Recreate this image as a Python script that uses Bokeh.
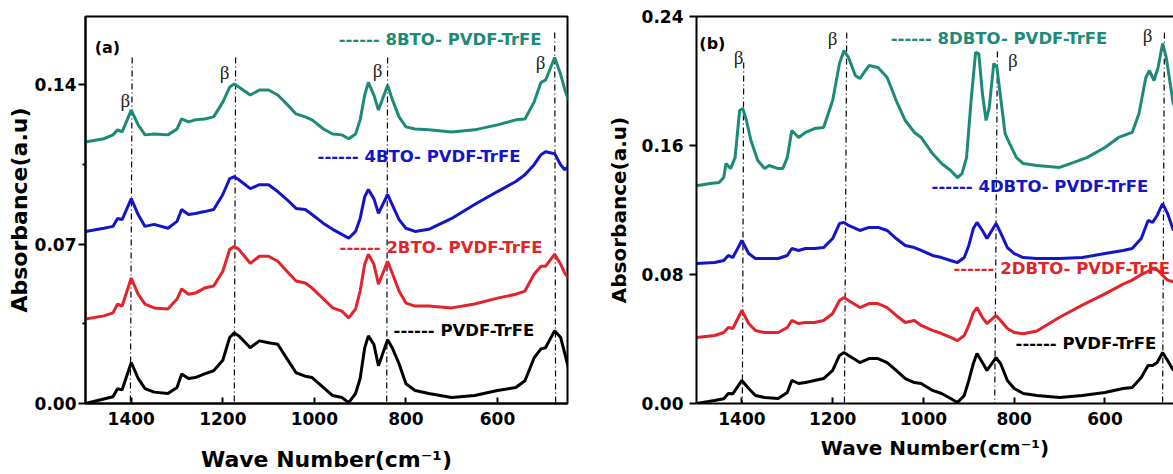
from bokeh.plotting import figure
from bokeh.models import Range1d, FixedTicker, PrintfTickFormatter, Label, LinearAxis
from bokeh.layouts import row
from bokeh.embed import file_html
from bokeh.resources import INLINE

# ---------------- data: panel (a) ----------------
wn_a = [1500, 1460, 1440, 1430, 1420, 1400, 1385, 1370, 1350, 1320, 1300, 1290, 1275, 1260, 1240, 1220,
        1200, 1185, 1175, 1165, 1140, 1120, 1100, 1080, 1060, 1040, 1020, 1005, 980, 960, 940, 925, 910,
        900, 890, 882, 870, 860, 840, 830, 815, 800, 780, 750, 700, 650, 600, 560, 540, 520, 505, 495,
        475, 462, 453, 445]
pvdf_a = [0.000, 0.002, 0.003, 0.0065, 0.006, 0.018, 0.011, 0.0065, 0.005, 0.0044, 0.007, 0.013, 0.011,
          0.0114, 0.013, 0.0144, 0.019, 0.029, 0.031, 0.0297, 0.0245, 0.0275, 0.0267, 0.026, 0.0197,
          0.0135, 0.012, 0.0114, 0.007, 0.0035, 0.0026, 0.0004, 0.0044, 0.011, 0.0245, 0.0297, 0.026,
          0.0166, 0.028, 0.0245, 0.0175, 0.0087, 0.0057, 0.0044, 0.0026, 0.0035, 0.0057, 0.007, 0.010,
          0.020, 0.024, 0.0245, 0.032, 0.029, 0.022, 0.0157]
bto2_a = [0.0371, 0.0385, 0.0398, 0.0437, 0.0428, 0.0551, 0.048, 0.0437, 0.042, 0.0415, 0.0459, 0.0503,
          0.048, 0.0485, 0.0507, 0.0516, 0.0581, 0.0677, 0.069, 0.0677, 0.0616, 0.0647, 0.0647, 0.0625,
          0.0581, 0.0538, 0.0529, 0.0507, 0.0459, 0.042, 0.0406, 0.0376, 0.0415, 0.0494, 0.0612, 0.0656,
          0.0612, 0.0524, 0.0625, 0.0573, 0.0494, 0.0441, 0.0428, 0.0428, 0.042, 0.0437, 0.0463, 0.048,
          0.0494, 0.0568, 0.0603, 0.0603, 0.0656, 0.0612, 0.0573, 0.0551]
bto4_a = [0.0756, 0.077, 0.0778, 0.0813, 0.0808, 0.090, 0.083, 0.0778, 0.0787, 0.077, 0.080, 0.0852,
          0.083, 0.0835, 0.0843, 0.0852, 0.0918, 0.0988, 0.0996, 0.0983, 0.0944, 0.0961, 0.0961, 0.0931,
          0.0896, 0.0857, 0.0852, 0.083, 0.0791, 0.0765, 0.0743, 0.0726, 0.0756, 0.0813, 0.0909, 0.094,
          0.090, 0.0835, 0.0918, 0.0874, 0.0808, 0.077, 0.0756, 0.0765, 0.0813, 0.0874, 0.0931, 0.0975,
          0.1005, 0.1049, 0.1093, 0.1106, 0.1097, 0.1049, 0.1027, 0.104]
bto8_a = [0.1149, 0.1163, 0.118, 0.1202, 0.1193, 0.1289, 0.1224, 0.118, 0.1184, 0.118, 0.1206, 0.125,
          0.1237, 0.1246, 0.125, 0.1259, 0.1324, 0.139, 0.1403, 0.139, 0.1355, 0.1377, 0.1377, 0.1355,
          0.1315, 0.1272, 0.1259, 0.1246, 0.1206, 0.1184, 0.118, 0.1163, 0.1184, 0.1246, 0.1355, 0.1411,
          0.1355, 0.1289, 0.1398, 0.1337, 0.1259, 0.1215, 0.1206, 0.1202, 0.1193, 0.1202, 0.1224, 0.1246,
          0.125, 0.1324, 0.1411, 0.142, 0.152, 0.1446, 0.1381, 0.1332]

# ---------------- data: panel (b) ----------------
wn_b = [1500, 1460, 1440, 1430, 1420, 1400, 1385, 1370, 1350, 1320, 1300, 1290, 1275, 1260, 1240, 1220,
        1200, 1185, 1175, 1165, 1140, 1120, 1100, 1080, 1060, 1040, 1020, 1005, 980, 960, 940, 925, 910,
        900, 890, 882, 870, 860, 840, 830, 815, 800, 780, 750, 700, 650, 600, 560, 540, 520, 505, 495,
        485, 473, 462, 449]
pvdf_b = [0.000, 0.0019, 0.003, 0.0062, 0.006, 0.0143, 0.0093, 0.005, 0.0037, 0.0031, 0.0068, 0.0143,
          0.0124, 0.013, 0.0143, 0.0155, 0.0205, 0.0298, 0.0316, 0.0298, 0.0254, 0.0279, 0.0279, 0.0254,
          0.0205, 0.0155, 0.013, 0.0124, 0.0081, 0.0062, 0.0031, 0.0006, 0.005, 0.0143, 0.0248, 0.031,
          0.0254, 0.0205, 0.0285, 0.0248, 0.0143, 0.0093, 0.0062, 0.005, 0.0037, 0.005, 0.0068, 0.0093,
          0.0099, 0.0161, 0.0236, 0.0236, 0.0254, 0.0316, 0.0267, 0.0205]
dbto2_b = [0.041, 0.0422, 0.044, 0.0471, 0.0465, 0.0577, 0.0496, 0.0453, 0.044, 0.044, 0.0471, 0.0515,
           0.0496, 0.0502, 0.0502, 0.0515, 0.0558, 0.0639, 0.0657, 0.0639, 0.0595, 0.062, 0.062, 0.0595,
           0.0546, 0.0502, 0.0515, 0.0484, 0.0453, 0.0434, 0.041, 0.039, 0.0422, 0.0484, 0.0564, 0.0595,
           0.0533, 0.0496, 0.0546, 0.0515, 0.0465, 0.0440, 0.0432, 0.0450, 0.0535, 0.0610, 0.0680, 0.0740,
           0.0765, 0.0800, 0.0820, 0.0835, 0.0830, 0.0795, 0.0765, 0.0755]
dbto4_b = [0.0868, 0.0874, 0.0887, 0.0918, 0.0905, 0.1011, 0.093, 0.0899, 0.0899, 0.0899, 0.0918, 0.0961,
           0.0949, 0.0961, 0.0961, 0.0967, 0.1023, 0.1116, 0.1123, 0.1104, 0.1073, 0.1092, 0.1092, 0.1073,
           0.1023, 0.098, 0.0967, 0.0949, 0.0918, 0.0905, 0.0887, 0.0874, 0.0905, 0.098, 0.1085, 0.1123,
           0.1073, 0.1023, 0.1116, 0.106, 0.0967, 0.093, 0.0905, 0.0899, 0.0899, 0.0905, 0.093, 0.0949,
           0.0961, 0.1023, 0.1135, 0.1123, 0.1166, 0.124, 0.1178, 0.1073]
wn_b8 = [1500, 1470, 1450, 1440, 1435, 1425, 1415, 1405, 1398, 1390, 1380, 1365, 1350, 1340, 1320, 1310,
         1300, 1290, 1275, 1260, 1240, 1220, 1200, 1185, 1175, 1165, 1150, 1140, 1120, 1100, 1080, 1060,
         1040, 1020, 1005, 980, 960, 940, 925, 915, 905, 895, 885, 878, 870, 862, 855, 845, 838, 830, 820,
         810, 795, 780, 750, 700, 670, 640, 600, 570, 540, 525, 510, 502, 492, 483, 473, 465, 449]
dbto8_b = [0.135, 0.1364, 0.137, 0.1401, 0.1488, 0.1457, 0.1525, 0.1817, 0.1829, 0.1755, 0.1631, 0.1507,
           0.1457, 0.1476, 0.1457, 0.1457, 0.1525, 0.1693, 0.165, 0.1681, 0.1705, 0.1712, 0.1879, 0.2109,
           0.2189, 0.2146, 0.2034, 0.2016, 0.2096, 0.2084, 0.2022, 0.1879, 0.1755, 0.1681, 0.165, 0.155,
           0.1488, 0.1445, 0.1401, 0.1426, 0.1525, 0.1879, 0.2177, 0.217, 0.1922, 0.1755, 0.1835, 0.2109,
           0.2084, 0.1898, 0.1674, 0.1612, 0.1525, 0.1488, 0.1476, 0.1464, 0.1494, 0.1525, 0.1588, 0.165,
           0.1681, 0.1798, 0.2022, 0.2065, 0.2003, 0.2084, 0.2233, 0.2146, 0.185]

# beta-band marker lines (top x, bottom x, top y)
beta_a_top = [1398, 1172, 840, 475]
beta_a_bot = [1402, 1175, 842, 473]
beta_a_y = [0.152, 0.152, 0.152, 0.163]
beta_b_top = [1396, 1169, 837, 469]
beta_b_bot = [1399, 1174, 843, 473]
beta_b_y = [0.2115, 0.230, 0.2183, 0.230]

TEAL = "#1d8a79"
BLUE = "#1414c8"
RED = "#e3232a"
BLACK = "#000000"
FONT = "DejaVu Sans"


def style(p, yticks, yminor, label_size, xl_standoff, yl_standoff, ytl_standoff):
    p.grid.visible = False
    p.background_fill_color = "white"
    p.border_fill_color = "white"
    xa = p.xaxis[0]
    xa.ticker = FixedTicker(ticks=[1400, 1200, 1000, 800, 600], minor_ticks=[])
    xa.major_tick_in = 6
    xa.major_tick_out = 0
    xa.major_tick_line_width = 2
    xa.axis_line_width = 2
    xa.major_label_standoff = 8
    xa.axis_label = "Wave Number(cm\u207b\u00b9)"
    ya = p.yaxis[0]
    ya.ticker = FixedTicker(ticks=yticks, minor_ticks=yminor)
    ya.formatter = PrintfTickFormatter(format="%.2f")
    ya.major_tick_in = 0
    ya.major_tick_out = 7
    ya.minor_tick_in = 0
    ya.minor_tick_out = 3
    ya.major_tick_line_width = 2
    ya.minor_tick_line_width = 2
    ya.axis_line_width = 2
    ya.major_label_standoff = ytl_standoff
    ya.axis_label = "Absorbance(a.u)"
    for ax in (xa, ya):
        ax.major_label_text_font = FONT
        ax.major_label_text_font_style = "bold"
        ax.major_label_text_font_size = "17px"
        ax.major_label_text_color = "black"
        ax.axis_label_text_font = FONT
        ax.axis_label_text_font_style = "bold"
        ax.axis_label_text_font_size = label_size
        ax.axis_label_text_color = "black"
        ax.axis_line_color = "black"
    ya.axis_label_standoff = yl_standoff
    xa.axis_label_standoff = xl_standoff


def add_text(p, x, y, text, color, size="16.5px", font=FONT, style_="bold", align="left"):
    p.add_layout(Label(x=x, y=y, text=text, text_color=color, text_font=font, text_font_size=size,
                       text_font_style=style_, text_align=align, text_baseline="middle"))


# ---------------- panel (a) ----------------
p1 = figure(width=600, height=474, output_backend="svg", toolbar_location=None,
            x_range=Range1d(1500, 447), y_range=Range1d(0, 0.17),
            min_border_left=85, min_border_right=33, min_border_top=14, min_border_bottom=71)
p1.outline_line_color = "black"
p1.outline_line_width = 2
style(p1, [0.0, 0.07, 0.14], [0.035, 0.105], "22px", 19, 0, 2)

p1.segment(x0=beta_a_top, y0=beta_a_y, x1=beta_a_bot, y1=[0] * 4, line_color="black",
           line_width=1.2, line_dash="6 3 1 3")
for ys, c in ((pvdf_a, BLACK), (bto2_a, RED), (bto4_a, BLUE), (bto8_a, TEAL)):
    p1.line(wn_a, ys, line_color=c, line_width=3)

add_text(p1, 1452, 0.1565, "(a)", "black", size="16px", align="center")
add_text(p1, 947, 0.160, "------ 8BTO- PVDF-TrFE", TEAL)
add_text(p1, 993, 0.1084, "------ 4BTO- PVDF-TrFE", BLUE)
add_text(p1, 945, 0.0686, "------ 2BTO- PVDF-TrFE", RED)
add_text(p1, 827, 0.0319, "------ PVDF-TrFE", "black")
for bx, by in ((1413, 0.1333), (1196, 0.1455), (862, 0.1464), (506, 0.1499)):
    add_text(p1, bx, by, "\u03b2", "#222222", size="19px", font="Liberation Serif", style_="normal",
             align="center")

# ---------------- panel (b) ----------------
p2 = figure(width=573, height=474, output_backend="svg", toolbar_location=None,
            x_range=Range1d(1500, 449), y_range=Range1d(0, 0.24),
            min_border_left=96, min_border_right=0, min_border_top=16, min_border_bottom=71)
p2.outline_line_color = None
style(p2, [0.0, 0.08, 0.16, 0.24], [], "20px", 8, 8, 6)
top_axis = LinearAxis(ticker=FixedTicker(ticks=[], minor_ticks=[]), major_tick_line_color=None,
                      minor_tick_line_color=None, axis_line_width=2, axis_line_color="black")
p2.add_layout(top_axis, "above")

p2.segment(x0=beta_b_top, y0=beta_b_y, x1=beta_b_bot, y1=[0] * 4, line_color="black",
           line_width=1.2, line_dash="6 3 1 3")
for xs, ys, c in ((wn_b, pvdf_b, BLACK), (wn_b, dbto2_b, RED), (wn_b, dbto4_b, BLUE), (wn_b8, dbto8_b, TEAL)):
    p2.line(xs, ys, line_color=c, line_width=3)

add_text(p2, 1465, 0.2233, "(b)", "black", size="16px", align="center")
add_text(p2, 1072, 0.2264, "------ 8DBTO- PVDF-TrFE", TEAL)
add_text(p2, 982, 0.1346, "------ 4DBTO- PVDF-TrFE", BLUE)
add_text(p2, 934, 0.0837, "------ 2DBTO- PVDF-TrFE", RED)
add_text(p2, 797, 0.0372, "------ PVDF-TrFE", "black")
for bx, by in ((1407, 0.2146), (1200, 0.2264), (803, 0.2127), (506, 0.2282)):
    add_text(p2, bx, by, "\u03b2", "#222222", size="19px", font="Liberation Serif", style_="normal",
             align="center")

layout = row(p1, p2)
open("out.html", "w").write(file_html(layout, INLINE))
